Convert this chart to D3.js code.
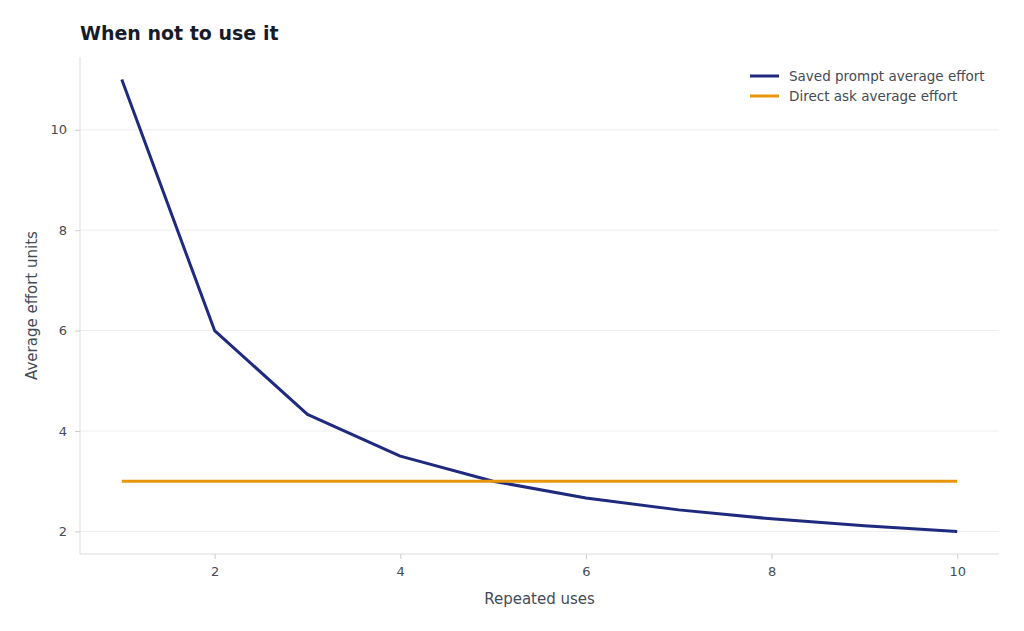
<!DOCTYPE html>
<html><head><meta charset="utf-8">
<script src="https://cdn.jsdelivr.net/npm/d3@7"></script>
<style>body{margin:0;background:#fff;font-family:"DejaVu Sans",sans-serif;}</style>
</head><body><div id="chart"></div>
<script>
// repeated uses and average effort per approach
var uses = [1, 2, 3, 4, 5, 6, 7, 8, 9, 10];
var savedPrompt = [11, 6, 4.333, 3.5, 3, 2.667, 2.429, 2.25, 2.111, 2];
var directAsk = [3, 3, 3, 3, 3, 3, 3, 3, 3, 3];
var xTicks = [2, 4, 6, 8, 10];
var yTicks = [2, 4, 6, 8, 10];
var seriesNames = ['Saved prompt average effort', 'Direct ask average effort'];
var seriesColors = ['#1f2a7f', '#e8970c'];

var W = 1024, H = 631, pLeft = 80, pRight = 999, pTop = 57, pBottom = 554;
var svg = d3.select('#chart').append('svg').attr('width', W).attr('height', H);
var x = d3.scaleLinear().domain([0.55, 10.45]).range([pLeft, pRight]);
var y = d3.scaleLinear().domain([1.55, 11.45]).range([pBottom, pTop]);

// grid
svg.selectAll('.grid').data(yTicks).enter().append('line')
  .attr('x1', pLeft).attr('x2', pRight)
  .attr('y1', function(d) { return y(d); }).attr('y2', function(d) { return y(d); })
  .style('stroke', '#eeeeee').style('stroke-width', 1);

// spines
svg.append('line').attr('x1', pLeft).attr('x2', pLeft).attr('y1', pTop).attr('y2', pBottom).style('stroke', '#dddddd');
svg.append('line').attr('x1', pLeft).attr('x2', pRight).attr('y1', pBottom).attr('y2', pBottom).style('stroke', '#dddddd');

var xAxis = svg.append('g').attr('transform', 'translate(0,' + pBottom + ')')
  .call(d3.axisBottom(x).tickValues(xTicks).tickSize(5).tickPadding(8));
var yAxis = svg.append('g').attr('transform', 'translate(' + pLeft + ',0)')
  .call(d3.axisLeft(y).tickValues(yTicks).tickSize(5).tickPadding(8));
[xAxis, yAxis].forEach(function(a) {
  a.select('.domain').remove();
  a.selectAll('line').style('stroke', '#cccccc');
  a.selectAll('text').style('font-size', '13px').style('fill', '#444b55').style('font-family', 'DejaVu Sans');
});

var line = d3.line().x(function(d, i) { return x(uses[i]); }).y(function(d) { return y(d); });
[savedPrompt, directAsk].forEach(function(s, i) {
  svg.append('path').datum(s).attr('d', line)
    .style('fill', 'none').style('stroke', seriesColors[i]).style('stroke-width', 3)
    .style('stroke-linejoin', 'round');
});

svg.append('text').attr('x', 80).attr('y', 40).text('When not to use it')
  .style('font-size', '19px').style('font-weight', 'bold').style('fill', '#161b2b');
svg.append('text').attr('x', (pLeft + pRight) / 2).attr('y', 604).attr('text-anchor', 'middle')
  .text('Repeated uses').style('font-size', '15px').style('fill', '#444b55');
svg.append('text').attr('transform', 'translate(37,' + ((pTop + pBottom) / 2) + ') rotate(-90)')
  .attr('text-anchor', 'middle').text('Average effort units').style('font-size', '15px').style('fill', '#444b55');

// legend
seriesNames.forEach(function(n, i) {
  var ly = 76 + i * 20;
  svg.append('line').attr('x1', 750).attr('x2', 779).attr('y1', ly).attr('y2', ly)
    .style('stroke', seriesColors[i]).style('stroke-width', 3);
  svg.append('text').attr('x', 789).attr('y', ly + 5).text(n)
    .style('font-size', '13.5px').style('fill', '#444b55');
});
</script></body></html>
